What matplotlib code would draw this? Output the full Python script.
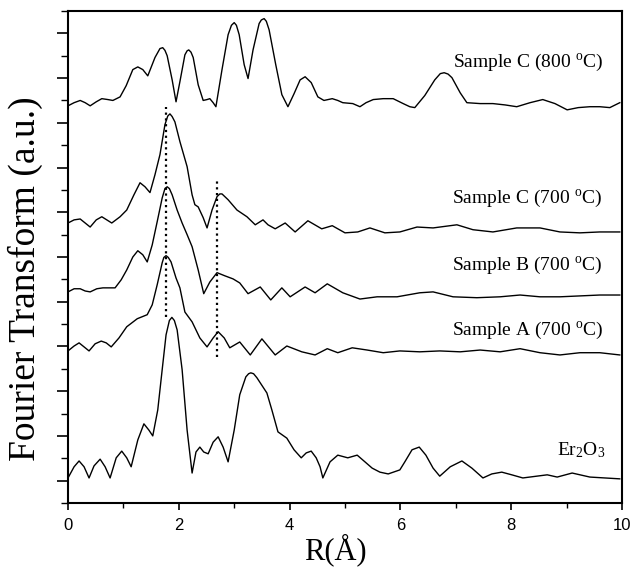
import matplotlib
matplotlib.use("Agg")
import matplotlib.pyplot as plt
from matplotlib.ticker import MultipleLocator, NullFormatter

# fonts: Times-like serif for the text, sans for the tick numbers
plt.rcParams['font.family'] = ['Liberation Serif', 'DejaVu Serif']
plt.rcParams['mathtext.fontset'] = 'custom'
plt.rcParams['mathtext.rm'] = 'Liberation Serif'
plt.rcParams['mathtext.it'] = 'Liberation Serif:italic'

# --- data: R (Angstrom) and stacked FT magnitude (a.u.) ---
r_c800 = [0.00, 0.11, 0.22, 0.31, 0.40, 0.51, 0.61, 0.72, 0.81, 0.94, 1.05, 1.17, 1.26, 1.35,
          1.44, 1.57, 1.66, 1.71, 1.75, 1.79, 1.88, 1.95, 2.02, 2.11, 2.15, 2.18, 2.22, 2.26,
          2.35, 2.44, 2.51, 2.56, 2.62, 2.67, 2.78, 2.89, 2.95, 3.00, 3.04, 3.09, 3.18, 3.25,
          3.34, 3.45, 3.49, 3.54, 3.58, 3.63, 3.75, 3.86, 3.97, 4.08, 4.19, 4.28, 4.39, 4.51,
          4.62, 4.77, 4.87, 4.96, 5.14, 5.27, 5.38, 5.51, 5.69, 5.87, 6.05, 6.17, 6.26, 6.44,
          6.62, 6.72, 6.79, 6.86, 6.93, 7.08, 7.20, 7.44, 7.67, 7.89, 8.10, 8.34, 8.57, 8.79,
          9.01, 9.21, 9.42, 9.60, 9.78, 9.96]
ft_c800 = [8.88, 8.95, 9.00, 8.95, 8.88, 8.97, 9.04, 9.02, 9.00, 9.08, 9.33, 9.69, 9.75, 9.69,
           9.55, 9.96, 10.16, 10.18, 10.12, 10.00, 9.46, 8.97, 9.42, 10.02, 10.11, 10.13, 10.08, 9.96,
           9.35, 9.00, 9.02, 9.04, 8.95, 8.86, 9.69, 10.47, 10.68, 10.74, 10.68, 10.47, 9.80, 9.49,
           10.13, 10.72, 10.80, 10.83, 10.77, 10.58, 9.80, 9.13, 8.86, 9.15, 9.46, 9.53, 9.40, 9.08,
           9.00, 9.04, 9.00, 8.95, 8.93, 8.86, 8.95, 9.02, 9.04, 9.04, 8.93, 8.86, 8.84, 9.11,
           9.46, 9.60, 9.62, 9.59, 9.51, 9.17, 8.95, 8.93, 8.93, 8.90, 8.86, 8.95, 9.02, 8.93,
           8.79, 8.84, 8.86, 8.86, 8.84, 8.95]

r_c700 = [0.00, 0.11, 0.22, 0.31, 0.40, 0.51, 0.61, 0.70, 0.79, 0.94, 1.06, 1.19, 1.30, 1.39,
          1.48, 1.57, 1.66, 1.75, 1.80, 1.84, 1.88, 1.93, 2.02, 2.15, 2.24, 2.29, 2.35, 2.44,
          2.51, 2.60, 2.69, 2.74, 2.78, 2.89, 3.05, 3.23, 3.38, 3.52, 3.61, 3.74, 3.92, 4.10,
          4.33, 4.58, 4.77, 5.00, 5.23, 5.45, 5.72, 5.99, 6.30, 6.59, 7.02, 7.31, 7.67, 8.10,
          8.52, 8.88, 9.24, 9.60, 9.96]
ft_c700 = [6.26, 6.33, 6.35, 6.26, 6.17, 6.33, 6.40, 6.33, 6.26, 6.40, 6.55, 6.89, 7.16, 7.07,
           6.94, 7.34, 7.79, 8.46, 8.65, 8.70, 8.64, 8.52, 8.08, 7.52, 6.89, 6.67, 6.62, 6.38,
           6.15, 6.55, 6.85, 6.91, 6.91, 6.78, 6.55, 6.40, 6.22, 6.33, 6.22, 6.13, 6.26, 6.06,
           6.31, 6.13, 6.20, 6.04, 6.06, 6.15, 6.04, 6.06, 6.17, 6.15, 6.22, 6.11, 6.06, 6.15,
           6.15, 6.06, 6.04, 6.06, 6.06]

r_b700 = [0.00, 0.11, 0.22, 0.31, 0.40, 0.52, 0.63, 0.85, 0.96, 1.06, 1.17, 1.26, 1.35, 1.43,
          1.52, 1.61, 1.70, 1.75, 1.79, 1.83, 1.88, 1.97, 2.06, 2.15, 2.24, 2.35, 2.45, 2.56,
          2.69, 2.83, 2.98, 3.10, 3.25, 3.47, 3.66, 3.86, 4.01, 4.28, 4.46, 4.68, 4.96, 5.27,
          5.58, 5.94, 6.35, 6.59, 6.95, 7.38, 7.80, 8.16, 8.52, 8.88, 9.24, 9.60, 9.96]
ft_b700 = [4.72, 4.79, 4.79, 4.74, 4.72, 4.79, 4.81, 4.81, 4.99, 5.21, 5.50, 5.64, 5.55, 5.39,
           5.77, 6.29, 6.82, 7.03, 7.07, 7.03, 6.89, 6.55, 6.26, 6.00, 5.73, 5.21, 4.68, 4.94,
           5.15, 5.08, 5.01, 4.92, 4.68, 4.83, 4.54, 4.81, 4.61, 4.83, 4.70, 4.90, 4.70, 4.56,
           4.61, 4.61, 4.70, 4.72, 4.61, 4.59, 4.61, 4.65, 4.61, 4.61, 4.63, 4.65, 4.65]

r_a700 = [0.00, 0.11, 0.20, 0.29, 0.38, 0.49, 0.60, 0.69, 0.78, 0.92, 1.06, 1.25, 1.43, 1.52,
          1.61, 1.70, 1.73, 1.77, 1.81, 1.86, 1.95, 2.02, 2.11, 2.24, 2.38, 2.51, 2.62, 2.71,
          2.82, 2.92, 3.10, 3.29, 3.50, 3.74, 3.95, 4.22, 4.46, 4.68, 4.87, 5.13, 5.40, 5.69,
          5.99, 6.35, 6.71, 7.08, 7.44, 7.80, 8.16, 8.52, 8.88, 9.24, 9.60, 9.96]
ft_a700 = [3.40, 3.51, 3.58, 3.49, 3.40, 3.56, 3.62, 3.58, 3.49, 3.69, 3.94, 4.12, 4.21, 4.43,
           4.88, 5.37, 5.49, 5.53, 5.49, 5.39, 5.03, 4.81, 4.27, 4.05, 3.69, 3.49, 3.69, 3.83,
           3.69, 3.47, 3.60, 3.31, 3.67, 3.31, 3.51, 3.38, 3.31, 3.45, 3.36, 3.47, 3.42, 3.36,
           3.40, 3.38, 3.40, 3.38, 3.42, 3.38, 3.45, 3.36, 3.31, 3.36, 3.36, 3.31]

r_er2o3 = [0.00, 0.11, 0.20, 0.29, 0.38, 0.47, 0.58, 0.67, 0.76, 0.87, 0.97, 1.06, 1.14, 1.26,
           1.37, 1.46, 1.53, 1.62, 1.70, 1.77, 1.83, 1.875, 1.92, 1.97, 2.06, 2.15, 2.24, 2.31,
           2.38, 2.45, 2.53, 2.62, 2.71, 2.80, 2.89, 3.00, 3.10, 3.21, 3.26, 3.30, 3.35, 3.41,
           3.59, 3.68, 3.79, 3.95, 4.08, 4.21, 4.30, 4.39, 4.48, 4.55, 4.60, 4.73, 4.87, 5.05,
           5.22, 5.36, 5.49, 5.63, 5.78, 5.99, 6.08, 6.21, 6.34, 6.46, 6.59, 6.71, 6.90, 7.11,
           7.29, 7.49, 7.65, 7.83, 8.01, 8.21, 8.65, 8.83, 9.10, 9.42, 9.96]
ft_er2o3 = [0.56, 0.81, 0.94, 0.81, 0.56, 0.83, 0.98, 0.81, 0.56, 1.01, 1.16, 1.01, 0.81, 1.41,
            1.77, 1.63, 1.50, 2.08, 2.98, 3.76, 4.08, 4.15, 4.08, 3.87, 2.98, 1.63, 0.67, 1.14,
            1.25, 1.14, 1.10, 1.36, 1.48, 1.25, 0.92, 1.63, 2.42, 2.82, 2.89, 2.91, 2.89, 2.80,
            2.46, 2.08, 1.59, 1.45, 1.19, 1.01, 1.12, 1.16, 1.01, 0.81, 0.56, 0.92, 1.07, 1.01,
            1.07, 0.92, 0.78, 0.69, 0.65, 0.74, 0.92, 1.19, 1.25, 1.07, 0.78, 0.60, 0.81, 0.94,
            0.78, 0.56, 0.65, 0.69, 0.63, 0.56, 0.63, 0.58, 0.67, 0.58, 0.54]

curves = [(r_c800, ft_c800), (r_c700, ft_c700), (r_b700, ft_b700),
          (r_a700, ft_a700), (r_er2o3, ft_er2o3)]

labels = [r'Sample C (800 $^{\mathrm{o}}$C)', r'Sample C (700 $^{\mathrm{o}}$C)',
          r'Sample B (700 $^{\mathrm{o}}$C)', r'Sample A (700 $^{\mathrm{o}}$C)',
          r'Er$_2$O$_3$']
label_r = [6.95, 6.93, 6.93, 6.93, 8.83]
label_y = [9.84, 6.82, 5.32, 3.85, 1.19]

# dotted guide lines (R, lower end, upper end)
guide_r = [1.77, 2.69]
guide_lo = [4.16, 3.27]
guide_hi = [8.86, 7.27]

fig = plt.figure(figsize=(6.33, 5.78), dpi=100)
ax = fig.add_axes([68 / 633, 1 - 503 / 578, 554 / 633, 492 / 578])

for r, ft in curves:
    ax.plot(r, ft, color='black', lw=1.0, solid_joinstyle='round')

for r, lo, hi in zip(guide_r, guide_lo, guide_hi):
    ax.plot([r, r], [lo, hi], color='black', lw=1.6, linestyle=(0, (1, 1.6)))

for txt, x, y in zip(labels, label_r, label_y):
    ax.text(x, y, txt, fontsize=14, va='center', ha='left')

ax.set_xlim(0, 10)
ax.set_ylim(0, 11)
ax.xaxis.set_major_locator(MultipleLocator(2))
ax.xaxis.set_minor_locator(MultipleLocator(1))
ax.set_yticks([0.5 + i for i in range(11)])
ax.yaxis.set_minor_locator(MultipleLocator(1))
ax.yaxis.set_major_formatter(NullFormatter())

ax.tick_params(axis='x', which='major', direction='out', length=5, width=1.2, pad=6)
ax.tick_params(axis='x', which='minor', direction='out', length=3.5, width=1.0)
ax.tick_params(axis='y', which='major', direction='out', length=8, width=1.2)
ax.tick_params(axis='y', which='minor', direction='out', length=5, width=1.0)
for lab in ax.get_xticklabels():
    lab.set_fontfamily('Liberation Sans')
    lab.set_fontsize(12)

for side in ['left', 'bottom', 'top', 'right']:
    ax.spines[side].set_linewidth(1.5)

ax.set_xlabel('R(Å)', fontsize=22)
ax.set_ylabel('Fourier Transform (a.u.)', fontsize=27)
ax.xaxis.set_label_coords(0.482, -0.062)
ax.yaxis.set_label_coords(-0.045, 0.455)

fig.savefig('out.png', dpi=100)
